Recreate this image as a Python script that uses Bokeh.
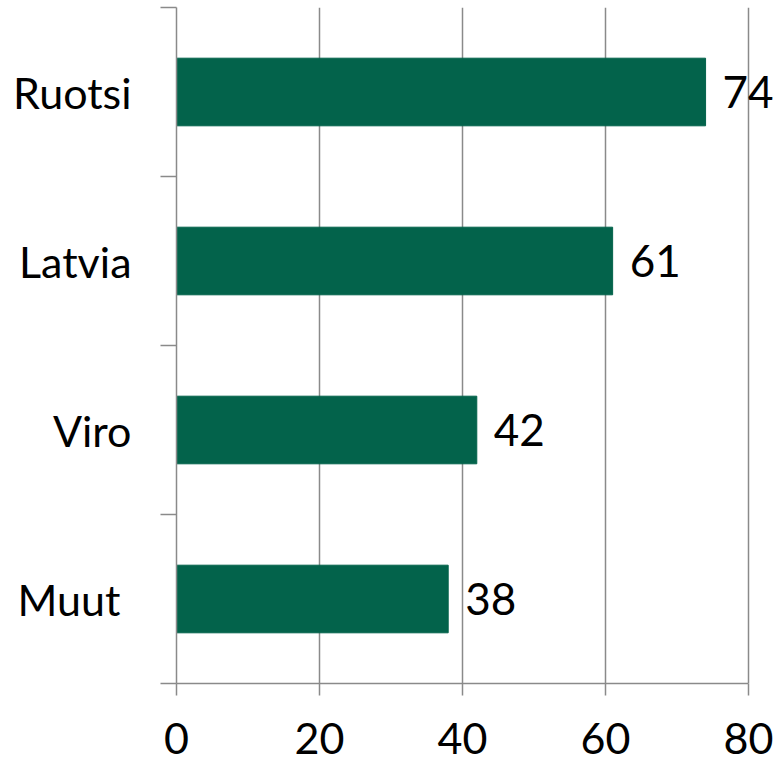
from bokeh.plotting import figure
from bokeh.models import FactorRange, Range1d, FixedTicker, LinearAxis, CategoricalAxis, ColumnDataSource, LabelSet
from bokeh.core.properties import value
from bokeh.embed import file_html
from bokeh.resources import INLINE

categories = ["Ruotsi", "Latvia", "Viro", "Muut\u00a0"]
values = [74, 61, 42, 38]
x_ticks = [0, 20, 40, 60, 80]

FONT = "Lato"
GRAY = "#8a8a8a"
GREEN = "#03634b"

src = ColumnDataSource(dict(cat=categories, val=values, lab=[str(v) for v in values]))

# frame reaches the right edge so the "74" label is not clipped; axis line bounded at 80
p = figure(width=775, height=760, output_backend="svg", toolbar_location=None,
           x_range=Range1d(0, 83.78),
           y_range=FactorRange(factors=list(reversed(categories)), range_padding=0),
           min_border_top=7, min_border_right=0, min_border_bottom=77, min_border_left=176,
           x_axis_location="below", y_axis_location=None)
p.outline_line_color = None
p.background_fill_color = "white"
p.border_fill_color = "white"

p.hbar(y="cat", right="val", left=0, height=0.4, color=GREEN, source=src)
labels = LabelSet(x="val", y="cat", text="lab", source=src, x_offset=17, text_baseline="middle",
                  text_align="left", text_font=value(FONT), text_font_size="44px", text_color="black")
p.add_layout(labels)

# x axis
xa = p.xaxis[0]
xa.bounds = (0, 80)
xa.ticker = FixedTicker(ticks=x_ticks)
xa.axis_line_color = GRAY
xa.axis_line_width = 1.5
xa.major_tick_line_color = GRAY
xa.major_tick_line_width = 1.5
xa.major_tick_out = 12
xa.major_tick_in = 0
xa.minor_tick_line_color = None
xa.major_label_text_font = FONT
xa.major_label_text_font_size = "43px"
xa.major_label_text_color = "black"
xa.major_label_standoff = 27

p.xgrid.ticker = FixedTicker(ticks=x_ticks)
p.xgrid.grid_line_color = GRAY
p.xgrid.grid_line_width = 1.5
p.ygrid.grid_line_color = None

# y axis: boundary ticks
ya = LinearAxis(ticker=FixedTicker(ticks=[0, 1, 2, 3, 4]))
ya.axis_line_color = GRAY
ya.axis_line_width = 1.5
ya.major_tick_line_color = GRAY
ya.major_tick_line_width = 1.5
ya.major_tick_out = 16
ya.major_tick_in = 0
ya.minor_tick_line_color = None
ya.major_label_text_font_size = "0px"
ya.major_label_standoff = 0
p.add_layout(ya, "left")

# y axis: category labels
ca = CategoricalAxis()
ca.axis_line_color = None
ca.major_tick_line_color = None
ca.minor_tick_line_color = None
ca.major_label_text_font = FONT
ca.major_label_text_font_size = "43px"
ca.major_label_text_color = "black"
ca.major_label_standoff = 23
p.add_layout(ca, "left")

open("out.html", "w").write(file_html(p, INLINE))
